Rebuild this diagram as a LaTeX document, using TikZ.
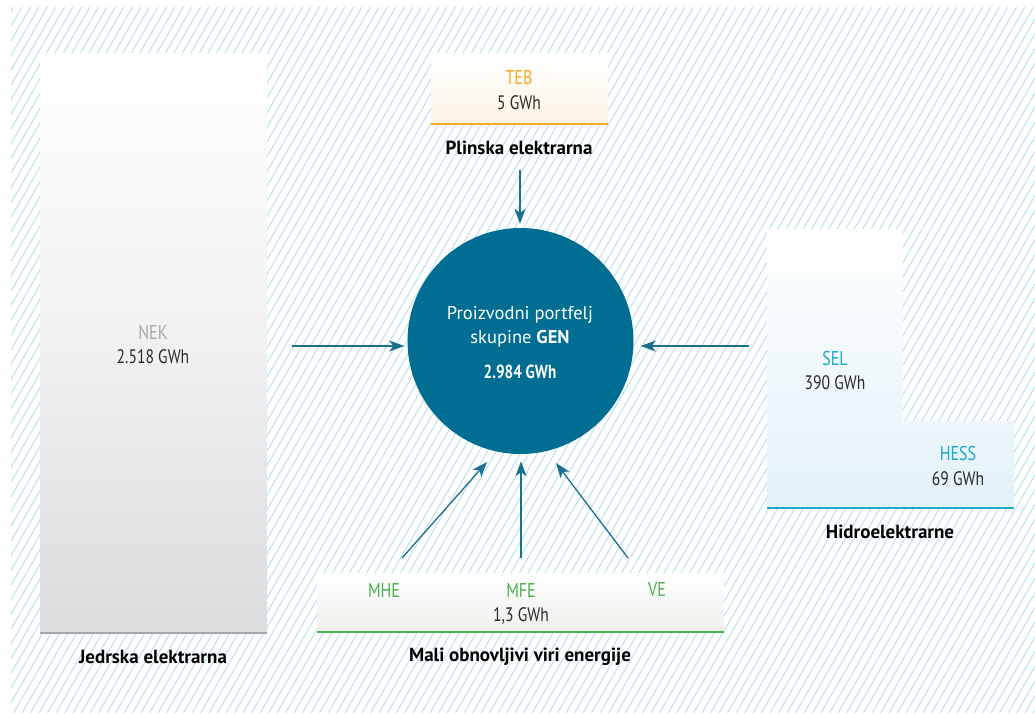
\documentclass[tikz,border=0pt]{standalone}
\usepackage{fontspec}
\setmainfont{PT Sans}
\newfontfamily\condfont[FakeStretch=0.8]{PT Sans}
\usepackage{xcolor}
\usepackage{tikz}
\usetikzlibrary{arrows.meta}
\definecolor{stripe}{HTML}{BCE0EC}
\definecolor{gen}{HTML}{006D93}
\definecolor{flow}{HTML}{1B6F8F}
\definecolor{dark}{HTML}{2A2A2A}
\definecolor{nekgrey}{HTML}{A9A9A9}
\definecolor{nekshade}{HTML}{DBDCDE}
\definecolor{nekline}{HTML}{A6A7A9}
\definecolor{orange}{HTML}{F7A823}
\definecolor{cream}{HTML}{FCF4E4}
\definecolor{hydro}{HTML}{1BA9C9}
\definecolor{hydroshade}{HTML}{E3F2F9}
\definecolor{green}{HTML}{4DAF50}
\definecolor{greenshade}{HTML}{EDF0EB}
\tikzset{
  hatch/.style={draw=stripe, line width=1pt},
  arrow/.style={draw=flow, line width=1.3pt, -{Stealth[length=15pt,width=11pt,inset=4pt]}},
  plant/.style={font=\condfont\fontsize{20}{22}\selectfont},
  val/.style={text=dark, font=\condfont\fontsize{19.5}{22}\selectfont},
  labb/.style={text=black, font=\bfseries\fontsize{19}{22}\selectfont},
  every node/.style={inner sep=0pt}
}

\begin{document}
\begin{tikzpicture}[x=1pt, y=-1pt]
  \useasboundingbox (0,0) rectangle (1035,713);
  \fill[white] (0,0) rectangle (1035,713);
  \begin{scope}
    \clip (11,7) rectangle (1035,713);
    \foreach \x in {-420,-411.5,...,1040}
      \draw[hatch] (\x,713) -- ++(408,-706);
  \end{scope}

  % boxes
  \shade[top color=white, bottom color=nekshade, middle color=white!60!nekshade] (40,53) rectangle (267,633);
  \draw[draw=nekline, line width=2.5pt] (40,633) -- (267,633);
  \shade[top color=white, bottom color=cream] (431,53) rectangle (608,124);
  \draw[draw=orange, line width=2.5pt] (431,124) -- (608,124);
  \shade[top color=white, bottom color=hydroshade]
    (767,229) -- (903,229) -- (903,421) -- (1014,421) -- (1014,508) -- (767,508) -- cycle;
  \draw[draw=hydro, line width=2.5pt] (767,508) -- (1014,508);
  \shade[top color=white, bottom color=greenshade] (317,573) rectangle (724,632);
  \draw[draw=green, line width=2.5pt] (317,632) -- (724,632);

  % centre
  \node[circle, fill=gen, minimum size=226pt] (gen) at (520.5,341) {};
  \node[text=white, font=\fontsize{18.5}{22}\selectfont] (gentop) at (520,315) {Proizvodni portfelj};
  \node[text=white, font=\fontsize{18.5}{22}\selectfont] (genmid) at (520,339) {skupine \textbf{GEN}};
  \node[text=white, font=\condfont\bfseries\fontsize{19}{22}\selectfont] (genval) at (520,372) {2.984 GWh};

  % plants
  \node[plant, text=nekgrey] (nek) at (153,332) {NEK};
  \node[val] (nekval) at (153,357) {2.518 GWh};
  \node[labb] (nekcap) at (153,657) {Jedrska elektrarna};
  \node[plant, text=orange] (teb) at (519,77) {TEB};
  \node[val] (tebval) at (519,103) {5 GWh};
  \node[labb] (tebcap) at (519,148) {Plinska elektrarna};
  \node[plant, text=hydro] (sel) at (835,358) {SEL};
  \node[val] (selval) at (835,383) {390 GWh};
  \node[plant, text=hydro] (hess) at (958,453) {HESS};
  \node[val] (hessval) at (958,479) {69 GWh};
  \node[labb] (hydrocap) at (890,532) {Hidroelektrarne};
  \node[plant, text=green] (mhe) at (384,590) {MHE};
  \node[plant, text=green] (mfe) at (521,590) {MFE};
  \node[plant, text=green] (ve) at (657,590) {VE};
  \node[val] (mfeval) at (521,616) {1,3 GWh};
  \node[labb] (mocap) at (520,657) {Mali obnovljivi viri energije};

  % flows
  \coordinate (nekout) at (292,346);
  \coordinate (tebout) at (520,170);
  \coordinate (hydroout) at (749,346);
  \coordinate (mheout) at (402,558);
  \coordinate (mhein) at (487,462);
  \coordinate (mfeout) at (521,558);
  \coordinate (vein) at (556,463);
  \coordinate (veout) at (628,558);
  \draw[arrow, shorten >=3pt] (nekout) -- (nekout -| gen.west);
  \draw[arrow, shorten >=4pt] (tebout) -- (tebout |- gen.north);
  \draw[arrow, shorten >=7pt] (hydroout) -- (hydroout -| gen.east);
  \draw[arrow] (mheout) -- (mhein);
  \draw[arrow, shorten >=7pt] (mfeout) -- (mfeout |- gen.south);
  \draw[arrow] (veout) -- (vein);
\end{tikzpicture}
\end{document}
